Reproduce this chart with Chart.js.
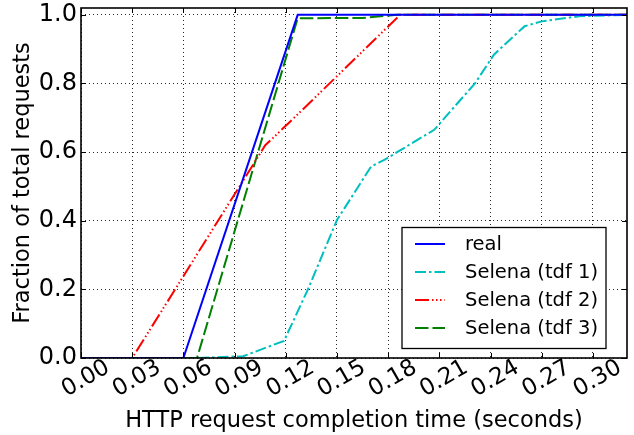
<!DOCTYPE html>
<html><head><meta charset="utf-8">
<script src="https://cdn.jsdelivr.net/npm/chart.js@4.4.1/dist/chart.umd.min.js"></script>
<style>html,body{margin:0;padding:0;background:#fff;overflow:hidden}</style>
</head><body>
<canvas id="c" width="634" height="435"></canvas>
<script>
// ---- data ----
const xTickValues = [0.00, 0.03, 0.06, 0.09, 0.12, 0.15, 0.18, 0.21, 0.24, 0.27, 0.30];
const yTickValues = [0.0, 0.2, 0.4, 0.6, 0.8, 1.0];
const seriesLabels = ['real', 'Selena (tdf 1)', 'Selena (tdf 2)', 'Selena (tdf 3)'];

const realX = [0.00, 0.060, 0.127, 0.32];
const realY = [0.00, 0.00, 1.00, 1.00];

const tdf1X = [0.00, 0.068, 0.095, 0.119, 0.133, 0.150, 0.170, 0.178, 0.185, 0.207, 0.231, 0.242, 0.260, 0.270, 0.292, 0.32];
const tdf1Y = [0.00, 0.000, 0.005, 0.050, 0.200, 0.402, 0.558, 0.578, 0.599, 0.665, 0.801, 0.884, 0.967, 0.981, 0.996, 1.00];

const tdf2X = [0.00, 0.030, 0.108, 0.127, 0.187, 0.32];
const tdf2Y = [0.00, 0.000, 0.620, 0.710, 1.000, 1.00];

const tdf3X = [0.00, 0.068, 0.127, 0.165, 0.185, 0.32];
const tdf3Y = [0.00, 0.000, 0.990, 0.991, 1.000, 1.00];

const zip = (xs, ys) => xs.map((x, i) => ({x: x, y: ys[i]}));

const FONT = "'DejaVu Sans', 'Liberation Sans', sans-serif";

const framePlugin = {
  id: 'frame',
  afterDraw(chart) {
    const {ctx, chartArea: a, scales} = chart;
    ctx.save();
    ctx.strokeStyle = '#000';
    ctx.lineWidth = 1;
    // inward tick marks
    const tl = 5;
    ctx.beginPath();
    xTickValues.forEach(v => {
      const px = Math.round(scales.x.getPixelForValue(v)) + 0.5;
      ctx.moveTo(px, a.bottom); ctx.lineTo(px, a.bottom - tl);
      ctx.moveTo(px, a.top); ctx.lineTo(px, a.top + tl);
    });
    yTickValues.forEach(v => {
      const py = Math.round(scales.y.getPixelForValue(v)) + 0.5;
      ctx.moveTo(a.left, py); ctx.lineTo(a.left + tl, py);
      ctx.moveTo(a.right, py); ctx.lineTo(a.right - tl, py);
    });
    ctx.stroke();
    ctx.lineWidth = 1.6;
    ctx.strokeRect(a.left, a.top, a.right - a.left, a.bottom - a.top);

    // legend
    const bx = 402, by = 227.5, bw = 204, bh = 121;
    ctx.fillStyle = '#fff';
    ctx.fillRect(bx, by, bw, bh);
    ctx.lineWidth = 1.3;
    ctx.strokeStyle = '#000';
    ctx.strokeRect(bx, by, bw, bh);
    ctx.font = '19.5px ' + FONT;
    ctx.textBaseline = 'middle';
    ctx.textAlign = 'left';
    chart.data.datasets.forEach((ds, i) => {
      const y = by + 16.5 + i * 28;
      ctx.save();
      ctx.strokeStyle = ds.borderColor;
      ctx.lineWidth = ds.borderWidth;
      ctx.setLineDash(ds.borderDash || []);
      ctx.beginPath();
      ctx.moveTo(415, y); ctx.lineTo(445, y);
      ctx.stroke();
      ctx.restore();
      ctx.fillStyle = '#000';
      ctx.fillText(ds.label, 465, y + 1);
    });
    ctx.restore();
  }
};

new Chart(document.getElementById('c'), {
  type: 'line',
  data: {
    datasets: [
      {label: seriesLabels[0], data: zip(realX, realY), borderColor: '#0000ff', borderWidth: 2, borderDash: []},
      {label: seriesLabels[1], data: zip(tdf1X, tdf1Y), borderColor: '#00bfbf', borderWidth: 2, borderDash: [11, 3, 2.5, 3]},
      {label: seriesLabels[2], data: zip(tdf2X, tdf2Y), borderColor: '#ff0000', borderWidth: 2, borderDash: [14, 3, 1.5, 2.5, 1.5, 2.5, 1.5, 3]},
      {label: seriesLabels[3], data: zip(tdf3X, tdf3Y), borderColor: '#008000', borderWidth: 2, borderDash: [13.5, 4]}
    ]
  },
  options: {
    responsive: false,
    animation: false,
    devicePixelRatio: 1,
    layout: {padding: {left: 0, right: 7, top: 8, bottom: 0}},
    elements: {point: {radius: 0}, line: {tension: 0, fill: false}},
    plugins: {legend: {display: false}, tooltip: {enabled: false}},
    scales: {
      x: {
        type: 'linear', min: 0, max: 0.32,
        afterBuildTicks: s => { s.ticks = xTickValues.map(v => ({value: v})); },
        afterFit: s => { s.height = 77; s.paddingLeft = 0; s.paddingRight = 0; },
        ticks: {
          callback: v => Number(v).toFixed(2),
          font: {family: FONT, size: 23}, color: '#000',
          minRotation: 30, maxRotation: 30, labelOffset: 27, padding: -4, autoSkip: false
        },
        grid: {color: 'rgba(0,0,0,0.85)', lineWidth: 1, drawTicks: false},
        border: {display: false, dash: [1, 3]},
        title: {display: true, text: 'HTTP request completion time (seconds)', font: {family: FONT, size: 22.5}, color: '#000', padding: {top: 0, bottom: 0}}
      },
      y: {
        type: 'linear', min: 0, max: 1.02,
        afterBuildTicks: s => { s.ticks = yTickValues.map(v => ({value: v})); },
        afterFit: s => { s.width = 81; s.paddingTop = 0; s.paddingBottom = 0; },
        ticks: {
          callback: v => Number(v).toFixed(1),
          font: {family: FONT, size: 24}, color: '#000', padding: 4
        },
        grid: {color: 'rgba(0,0,0,0.85)', lineWidth: 1, drawTicks: false},
        border: {display: false, dash: [1, 3]},
        title: {display: true, text: 'Fraction of total requests', font: {family: FONT, size: 22.5}, color: '#000', padding: {top: 10, bottom: 0}}
      }
    }
  },
  plugins: [framePlugin]
});
</script>
</body></html>
